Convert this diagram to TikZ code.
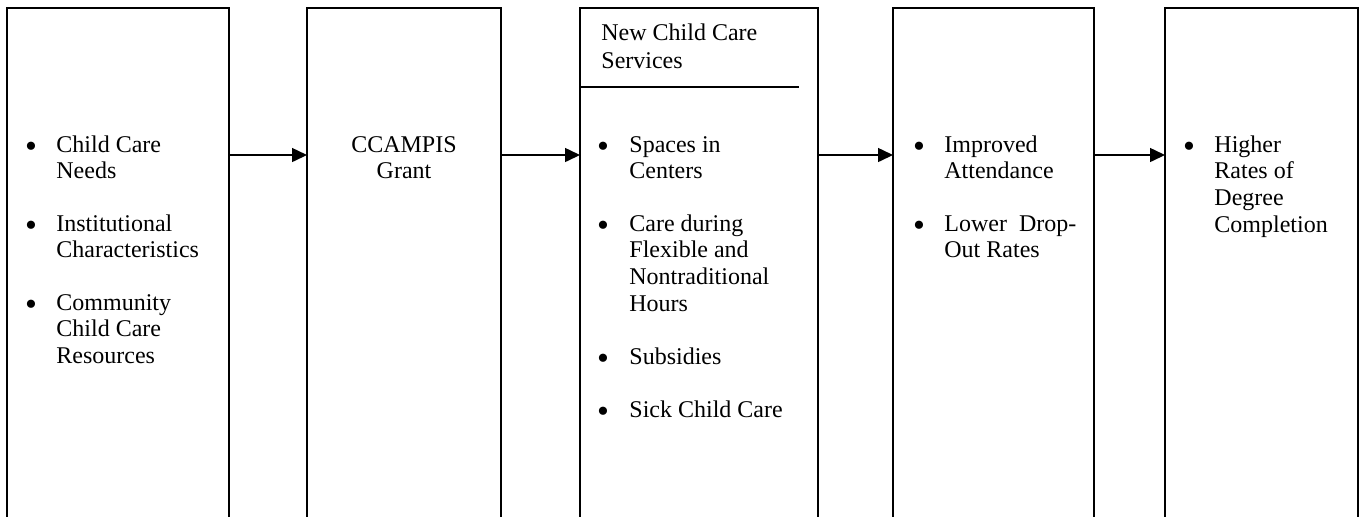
\documentclass[tikz,border=0pt]{standalone}
\usepackage{fontspec}
\setmainfont{Liberation Serif}
\usetikzlibrary{arrows.meta}
\begin{document}
\begin{tikzpicture}[x=0.5pt,y=-0.5pt,
  box/.style={draw,line width=0.9pt,inner sep=0pt,outer sep=0pt,anchor=north west,minimum height=270pt},
  txt/.style={font=\fontsize{12}{13.35}\selectfont,inner sep=0pt,anchor=base west,align=left},
  ctxt/.style={font=\fontsize{12}{13.35}\selectfont,inner sep=0pt,anchor=base,align=center},
  bul/.style={font=\fontsize{17}{18}\selectfont,inner sep=0pt,anchor=base},
  arr/.style={-{Triangle[length=7.5pt,width=7pt]},line width=0.75pt}]
\useasboundingbox (0,0) rectangle (1363,516);
\clip (0,0) rectangle (1363,516);
% boxes
\node[box,minimum width=111pt] (b1) at (7,8) {};
\node[box,minimum width=97pt] (b2) at (307,8) {};
\node[box,minimum width=119pt] (b3) at (580,8) {};
\node[box,minimum width=100.5pt] (b4) at (893,8) {};
\node[box,minimum width=96.5pt] (b5) at (1165,8) {};
% arrows
\coordinate (ay) at (0,155);
\draw[arr] (b1.east |- ay) -- (b2.west |- ay);
\draw[arr] (b2.east |- ay) -- (b3.west |- ay);
\draw[arr] (b3.east |- ay) -- (b4.west |- ay);
\draw[arr] (b4.east |- ay) -- (b5.west |- ay);
% box 1 (text anchors at the baseline of the last line)
\node[bul] (p1) at (31,157) {•};
\node[txt] (t1) at (56,178.7) {Child Care\\Needs};
\node[bul] (p2) at (31,236) {•};
\node[txt] (t2) at (56,257.7) {Institutional\\Characteristics};
\node[bul] (p3) at (31,315) {•};
\node[txt] (t3) at (56,363.4) {Community\\Child Care\\Resources};
% box 2
\node[ctxt] (g) at (404,178.7) {CCAMPIS\\Grant};
% box 3
\node[txt] (h) at (601,68) {New Child Care\\[0.6pt]Services};
\coordinate (hl) at (799,87);
\draw[line width=0.9pt] (b3.west |- hl) -- (hl);
\node[bul] (q1) at (603,157) {•};
\node[txt] (s1) at (629,178.7) {Spaces in\\Centers};
\node[bul] (q2) at (603,236) {•};
\node[txt] (s2) at (629,311.1) {Care during\\Flexible and\\Nontraditional\\Hours};
\node[bul] (q3) at (603,369) {•};
\node[txt] (s3) at (629,364) {Subsidies};
\node[bul] (q4) at (603,422) {•};
\node[txt] (s4) at (629,417) {Sick Child Care};
% box 4
\node[bul] (r1) at (919,157) {•};
\node[txt] (o1) at (944,178.7) {Improved\\Attendance};
\node[bul] (r2) at (919,236) {•};
\node[txt] (o2) at (944,257.7) {Lower\ \ Drop-\\Out Rates};
% box 5
\node[bul] (u1) at (1189,157) {•};
\node[txt] (v1) at (1214,232.1) {Higher\\Rates of\\Degree\\Completion};
\end{tikzpicture}
\end{document}
